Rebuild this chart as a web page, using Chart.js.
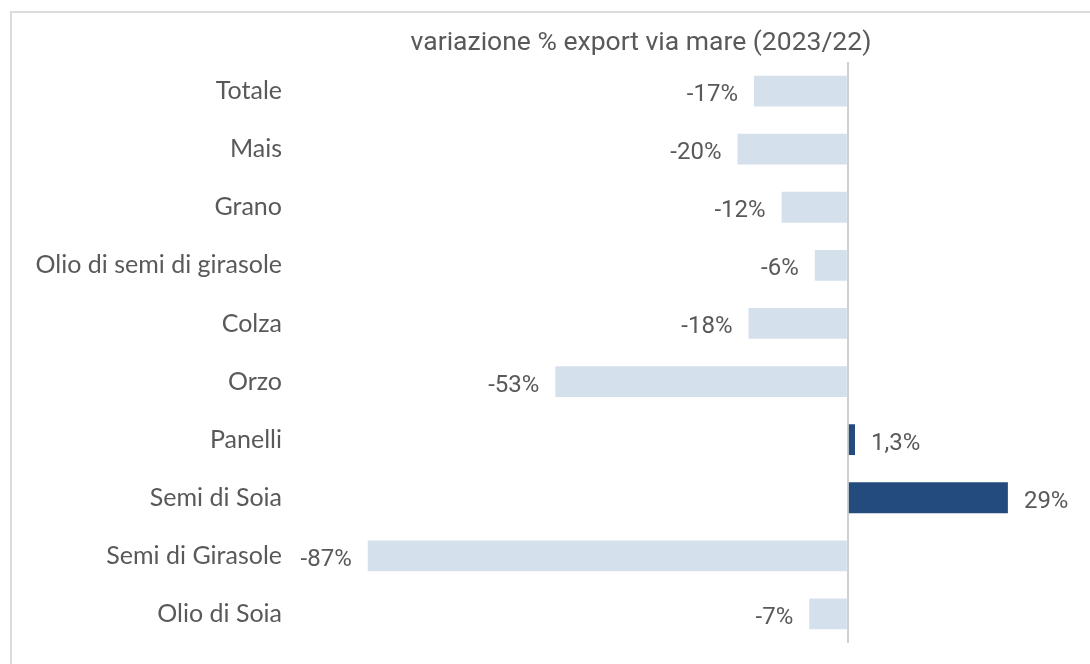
<!DOCTYPE html>
<html>
<head>
<meta charset="utf-8">
<script src="https://cdn.jsdelivr.net/npm/chart.js@4"></script>
<style>
  html, body { margin: 0; padding: 0; background: #fff; }
  #wrap { width: 1090px; height: 664px; position: relative; }
</style>
</head>
<body>
<div id="wrap"><canvas id="myChart" width="1090" height="664"></canvas></div>
<script>
const titleText = 'variazione % export via mare (2023/22)';
const categories = ['Totale', 'Mais', 'Grano', 'Olio di semi di girasole', 'Colza', 'Orzo', 'Panelli', 'Semi di Soia', 'Semi di Girasole', 'Olio di Soia'];
const values = [-17, -20, -12, -6, -18, -53, 1.3, 29, -87, -7];
const valueLabels = ['-17%', '-20%', '-12%', '-6%', '-18%', '-53%', '1,3%', '29%', '-87%', '-7%'];

const lightBlue = '#d5e0ed';
const darkBlue = '#234b7e';
const textGrey = '#595959';

// frame + title, drawn straight on the canvas
const framePlugin = {
  id: 'frame',
  beforeDraw(chart) {
    const ctx = chart.ctx;
    ctx.save();
    ctx.strokeStyle = '#dcdcdc';
    ctx.lineWidth = 2;
    ctx.beginPath();
    ctx.moveTo(11, 664);
    ctx.lineTo(11, 12);
    ctx.lineTo(1090, 12);
    ctx.stroke();
    ctx.restore();
  },
  afterDraw(chart) {
    const ctx = chart.ctx;
    ctx.save();
    ctx.fillStyle = textGrey;
    ctx.font = '26.5px Roboto';
    ctx.textAlign = 'center';
    ctx.textBaseline = 'middle';
    ctx.fillText(titleText, 641, 43);
    ctx.restore();
  }
};

// value labels next to the bar ends
const valueLabelPlugin = {
  id: 'valueLabels',
  afterDatasetsDraw(chart) {
    const ctx = chart.ctx;
    const meta = chart.getDatasetMeta(0);
    ctx.save();
    ctx.fillStyle = textGrey;
    ctx.font = '24px Roboto';
    ctx.textBaseline = 'middle';
    meta.data.forEach((bar, i) => {
      const v = values[i];
      if (v < 0) {
        ctx.textAlign = 'right';
        ctx.fillText(valueLabels[i], bar.x - 16, bar.y + 4);
      } else {
        ctx.textAlign = 'left';
        ctx.fillText(valueLabels[i], bar.x + 16, bar.y + 4);
      }
    });
    ctx.restore();
  }
};

const ctx = document.getElementById('myChart').getContext('2d');
new Chart(ctx, {
  type: 'bar',
  data: {
    labels: categories,
    datasets: [{
      data: values,
      backgroundColor: values.map(v => v < 0 ? lightBlue : darkBlue),
      borderWidth: 0,
      categoryPercentage: 1,
      barPercentage: 0.53
    }]
  },
  options: {
    indexAxis: 'y',
    responsive: false,
    animation: false,
    layout: { padding: { left: 10, right: 49, top: 62, bottom: 21 } },
    scales: {
      x: {
        min: -100,
        max: 35,
        afterFit(scale) { scale.height = 0; scale.paddingLeft = 0; scale.paddingRight = 0; },
        ticks: { display: false },
        border: { display: false },
        grid: {
          drawTicks: false,
          lineWidth: 2,
          color: c => c.tick && c.tick.value === 0 ? '#d0d0d0' : 'rgba(0,0,0,0)'
        }
      },
      y: {
        afterFit(scale) { scale.width = 286; scale.paddingTop = 0; scale.paddingBottom = 0; },
        border: { display: false },
        grid: { display: false, drawTicks: false },
        ticks: {
          padding: 14,
          color: textGrey,
          font: { family: 'Lato', size: 25 }
        }
      }
    },
    plugins: {
      legend: { display: false },
      tooltip: { enabled: false }
    }
  },
  plugins: [framePlugin, valueLabelPlugin]
});
</script>
</body>
</html>
